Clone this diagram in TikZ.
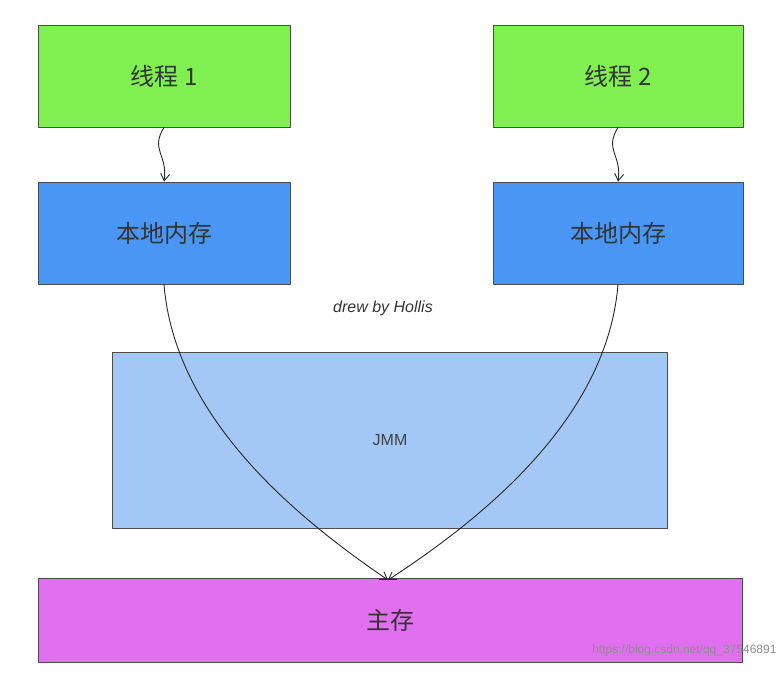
\documentclass[tikz,border=0pt]{standalone}
\usepackage{fontspec}
\usetikzlibrary{arrows.meta}
\newfontfamily\cjk{Noto Sans CJK SC}
\setmainfont{Liberation Sans}
\definecolor{threadcol}{HTML}{80F050}
\definecolor{localcol}{HTML}{4A96F5}
\definecolor{jmmcol}{HTML}{A3C8F5}
\definecolor{maincol}{HTML}{E070F0}
\tikzset{
  box/.style={draw=black!70,line width=0.8pt,inner sep=0pt},
  lbl/.style={font=\cjk\fontsize{24}{28}\selectfont,text=black!80},
  link/.style={-{Straight Barb[length=7pt,width=9pt]},line width=0.9pt,black!85},
}
\begin{document}
\begin{tikzpicture}[x=1pt,y=-1pt,line join=bevel]
  \useasboundingbox (0,0) rectangle (784,698);
  % Node: threads
  \node[box,fill=threadcol,minimum width=252pt,minimum height=102pt,lbl] (t1) at (164,76) {线程 1};
  \node[box,fill=threadcol,minimum width=250pt,minimum height=102pt,lbl] (t2) at (618,76) {线程 2};
  % Node: local memories
  \node[box,fill=localcol,minimum width=252pt,minimum height=102pt,lbl] (l1) at (164,233) {本地内存};
  \node[box,fill=localcol,minimum width=250pt,minimum height=102pt,lbl] (l2) at (618,233) {本地内存};
  % Node: JMM and main memory
  \node[box,fill=jmmcol,minimum width=555pt,minimum height=176pt,font=\fontsize{16}{20}\selectfont,text=black!75] (jmm) at (390,440) {JMM};
  \node[box,fill=maincol,minimum width=704pt,minimum height=84pt,lbl] (mm) at (390,620) {主存};
  \coordinate (hit) at (388,580);
  % Edges
  \draw[link] (t1.south) .. controls (150,150) and (168,155) .. (l1.north);
  \draw[link] (t2.south) .. controls (604,150) and (622,155) .. (l2.north);
  \draw[link] (l1.south) .. controls (175,420) and (300,520) .. (hit);
  \draw[link] (l2.south) .. controls (607,420) and (480,520) .. (hit);
  % Labels
  \node[font=\itshape\fontsize{16}{20}\selectfont,text=black!80] (by) at (383,308) {drew by Hollis};
  \node[font=\fontsize{12}{14}\selectfont,text=black!45,anchor=east] (wm) at (780,650) {https://blog.csdn.net/qq\_37546891};
\end{tikzpicture}
\end{document}
